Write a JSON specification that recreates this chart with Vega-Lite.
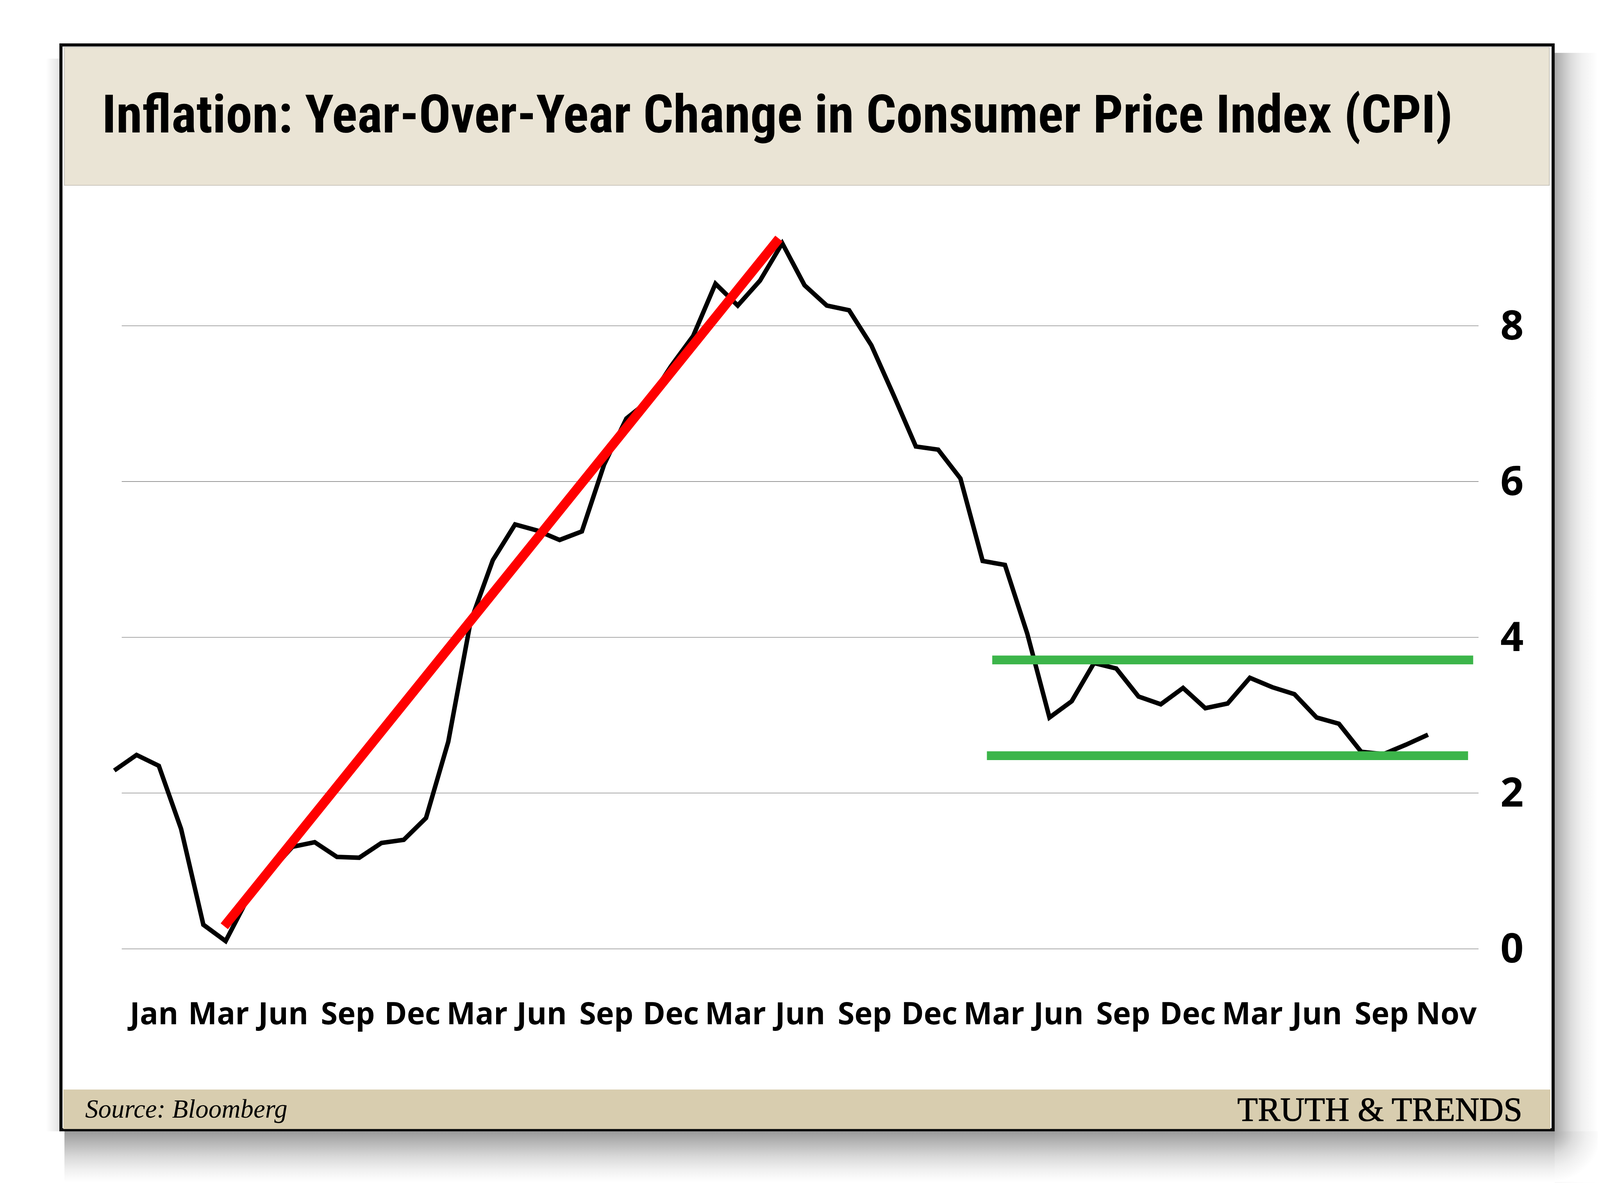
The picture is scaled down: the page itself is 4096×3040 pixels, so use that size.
{
  "$schema": "https://vega.github.io/schema/vega-lite/v6.json",
  "width": 3820,
  "height": 2776,
  "autosize": "none",
  "padding": {"left": 156, "top": 115, "right": 120, "bottom": 149},
  "background": "#FFFFFF",
  "config": {"view": {"fill": "#FFFFFF", "stroke": "#0D0D0D", "strokeWidth": 8}},
  "resolve": {"scale": {"x": "independent"}},
  "datasets": {
    "cpi": [
      {"month": "2019-12", "i": 0, "v": 2.29},
      {"month": "2020-01", "i": 1, "v": 2.49},
      {"month": "2020-02", "i": 2, "v": 2.35},
      {"month": "2020-03", "i": 3, "v": 1.54},
      {"month": "2020-04", "i": 4, "v": 0.31},
      {"month": "2020-05", "i": 5, "v": 0.1},
      {"month": "2020-06", "i": 6, "v": 0.65},
      {"month": "2020-07", "i": 7, "v": 0.99},
      {"month": "2020-08", "i": 8, "v": 1.31},
      {"month": "2020-09", "i": 9, "v": 1.37},
      {"month": "2020-10", "i": 10, "v": 1.18},
      {"month": "2020-11", "i": 11, "v": 1.17},
      {"month": "2020-12", "i": 12, "v": 1.36},
      {"month": "2021-01", "i": 13, "v": 1.4},
      {"month": "2021-02", "i": 14, "v": 1.68},
      {"month": "2021-03", "i": 15, "v": 2.66},
      {"month": "2021-04", "i": 16, "v": 4.2},
      {"month": "2021-05", "i": 17, "v": 4.99},
      {"month": "2021-06", "i": 18, "v": 5.45},
      {"month": "2021-07", "i": 19, "v": 5.37},
      {"month": "2021-08", "i": 20, "v": 5.25},
      {"month": "2021-09", "i": 21, "v": 5.36},
      {"month": "2021-10", "i": 22, "v": 6.22},
      {"month": "2021-11", "i": 23, "v": 6.81},
      {"month": "2021-12", "i": 24, "v": 7.04},
      {"month": "2022-01", "i": 25, "v": 7.48},
      {"month": "2022-02", "i": 26, "v": 7.87},
      {"month": "2022-03", "i": 27, "v": 8.54},
      {"month": "2022-04", "i": 28, "v": 8.26},
      {"month": "2022-05", "i": 29, "v": 8.58},
      {"month": "2022-06", "i": 30, "v": 9.06},
      {"month": "2022-07", "i": 31, "v": 8.52},
      {"month": "2022-08", "i": 32, "v": 8.26},
      {"month": "2022-09", "i": 33, "v": 8.2},
      {"month": "2022-10", "i": 34, "v": 7.75},
      {"month": "2022-11", "i": 35, "v": 7.11},
      {"month": "2022-12", "i": 36, "v": 6.45},
      {"month": "2023-01", "i": 37, "v": 6.41},
      {"month": "2023-02", "i": 38, "v": 6.04},
      {"month": "2023-03", "i": 39, "v": 4.98},
      {"month": "2023-04", "i": 40, "v": 4.93},
      {"month": "2023-05", "i": 41, "v": 4.05},
      {"month": "2023-06", "i": 42, "v": 2.97},
      {"month": "2023-07", "i": 43, "v": 3.18},
      {"month": "2023-08", "i": 44, "v": 3.67},
      {"month": "2023-09", "i": 45, "v": 3.6},
      {"month": "2023-10", "i": 46, "v": 3.24},
      {"month": "2023-11", "i": 47, "v": 3.14},
      {"month": "2023-12", "i": 48, "v": 3.35},
      {"month": "2024-01", "i": 49, "v": 3.09},
      {"month": "2024-02", "i": 50, "v": 3.15},
      {"month": "2024-03", "i": 51, "v": 3.48},
      {"month": "2024-04", "i": 52, "v": 3.36},
      {"month": "2024-05", "i": 53, "v": 3.27},
      {"month": "2024-06", "i": 54, "v": 2.97},
      {"month": "2024-07", "i": 55, "v": 2.89},
      {"month": "2024-08", "i": 56, "v": 2.53},
      {"month": "2024-09", "i": 57, "v": 2.5},
      {"month": "2024-10", "i": 58, "v": 2.62},
      {"month": "2024-11", "i": 59, "v": 2.75}
    ],
    "trend": [{"i": 4.94, "v": 0.29}, {"i": 29.85, "v": 9.12}],
    "support": [
      {"level": "upper", "start": 39.43, "end": 61.03, "v": 3.71},
      {"level": "lower", "start": 39.19, "end": 60.8, "v": 2.48}
    ],
    "grid": [{"v": 0}, {"v": 2}, {"v": 4}, {"v": 6}, {"v": 8}],
    "ticklabels": [
      {"slot": 0, "label": "Jan"}, {"slot": 1, "label": "Mar"}, {"slot": 2, "label": "Jun"}, {"slot": 3, "label": "Sep"},
      {"slot": 4, "label": "Dec"}, {"slot": 5, "label": "Mar"}, {"slot": 6, "label": "Jun"}, {"slot": 7, "label": "Sep"},
      {"slot": 8, "label": "Dec"}, {"slot": 9, "label": "Mar"}, {"slot": 10, "label": "Jun"}, {"slot": 11, "label": "Sep"},
      {"slot": 12, "label": "Dec"}, {"slot": 13, "label": "Mar"}, {"slot": 14, "label": "Jun"}, {"slot": 15, "label": "Sep"},
      {"slot": 16, "label": "Dec"}, {"slot": 17, "label": "Mar"}, {"slot": 18, "label": "Jun"}, {"slot": 19, "label": "Sep"},
      {"slot": 20, "label": "Nov"}
    ]
  },
  "layer": [
    {"data": {"values": [{}]},
     "mark": {"type": "rect", "fill": {"gradient": "linear", "x1": 0, "y1": 0, "x2": 0, "y2": 1,
              "stops": [{"offset": 0, "color": "#9A9A9A"}, {"offset": 0.2, "color": "#B4B4B4"}, {"offset": 0.5, "color": "#D9D9D9"}, {"offset": 0.75, "color": "#F0F0F0"}, {"offset": 1, "color": "#FFFFFF"}]}},
     "encoding": {"x": {"datum": -2.239, "scale": {"domain": [-2.396, 64.62], "nice": false, "zero": false}, "axis": null}, "x2": {"datum": 64.69},
                  "y": {"datum": -2.343, "scale": {"domain": [-2.323, 11.606], "nice": false, "zero": false}, "axis": null}, "y2": {"datum": -2.996}}},
    {"data": {"values": [{}]},
     "mark": {"type": "rect", "fill": {"gradient": "linear", "x1": 0, "y1": 0, "x2": 1, "y2": 0,
              "stops": [{"offset": 0, "color": "#A8A8A8"}, {"offset": 0.17, "color": "#C0C0C0"}, {"offset": 0.38, "color": "#DCDCDC"}, {"offset": 0.62, "color": "#F0F0F0"}, {"offset": 1, "color": "#FFFFFF"}]}},
     "encoding": {"x": {"datum": 64.69, "scale": {"domain": [-2.396, 64.62], "nice": false, "zero": false}, "axis": null}, "x2": {"datum": 66.62},
                  "y": {"datum": 11.505, "scale": {"domain": [-2.323, 11.606], "nice": false, "zero": false}, "axis": null}, "y2": {"datum": -2.343}}},
    {"data": {"values": [{}]},
     "mark": {"type": "rect", "fill": {"gradient": "radial", "x1": 0, "y1": 0, "r1": 0, "x2": 0, "y2": 0, "r2": 1,
              "stops": [{"offset": 0, "color": "#A0A0A0"}, {"offset": 0.2, "color": "#BABABA"}, {"offset": 0.45, "color": "#DCDCDC"}, {"offset": 0.7, "color": "#F0F0F0"}, {"offset": 1, "color": "#FFFFFF"}]}},
     "encoding": {"x": {"datum": 64.69, "scale": {"domain": [-2.396, 64.62], "nice": false, "zero": false}, "axis": null}, "x2": {"datum": 66.62},
                  "y": {"datum": -2.343, "scale": {"domain": [-2.323, 11.606], "nice": false, "zero": false}, "axis": null}, "y2": {"datum": -2.996}}},
    {"data": {"values": [{}]},
     "mark": {"type": "rect", "fill": {"gradient": "linear", "x1": 0, "y1": 0, "x2": 1, "y2": 0,
              "stops": [{"offset": 0, "color": "#FFFFFF"}, {"offset": 1, "color": "#E4E4E4"}]}},
     "encoding": {"x": {"datum": -3.063, "scale": {"domain": [-2.396, 64.62], "nice": false, "zero": false}, "axis": null}, "x2": {"datum": -2.467},
                  "y": {"datum": 11.43, "scale": {"domain": [-2.323, 11.606], "nice": false, "zero": false}, "axis": null}, "y2": {"datum": -2.343}}},
    {"data": {"values": [{}]}, "mark": {"type": "rect", "fill": "#EAE4D5", "stroke": "#BDBAB2", "strokeWidth": 1.5},
     "encoding": {"x": {"datum": -2.239, "scale": {"domain": [-2.396, 64.62], "nice": false, "zero": false}, "axis": null}, "x2": {"datum": 64.45},
                  "y": {"datum": 11.576, "scale": {"domain": [-2.323, 11.606], "nice": false, "zero": false}, "axis": null}, "y2": {"datum": 9.804}}},
    {"data": {"values": [{}]}, "mark": {"type": "rect", "fill": "#D8CDAF"},
     "encoding": {"x": {"datum": -2.291, "scale": {"domain": [-2.396, 64.62], "nice": false, "zero": false}, "axis": null}, "x2": {"datum": 64.5},
                  "y": {"datum": -1.806, "scale": {"domain": [-2.323, 11.606], "nice": false, "zero": false}, "axis": null}, "y2": {"datum": -2.313}}},
    {"data": {"name": "grid"}, "mark": {"type": "rule", "color": "#767676", "strokeWidth": 1.3},
     "encoding": {"x": {"datum": 0.335, "scale": {"domain": [-2.396, 64.62], "nice": false, "zero": false}, "axis": null}, "x2": {"datum": 61.27},
                  "y": {"field": "v", "type": "quantitative", "scale": {"domain": [-2.323, 11.606], "nice": false, "zero": false}, "axis": null}}},
    {"data": {"name": "grid"}, "mark": {"type": "text", "font": "Open Sans", "fontWeight": "bold", "fontSize": 104, "align": "left", "baseline": "alphabetic", "dy": 35, "color": "#000000"},
     "encoding": {"x": {"datum": 62.25, "scale": {"domain": [-2.396, 64.62], "nice": false, "zero": false}, "axis": null},
                  "y": {"field": "v", "type": "quantitative", "scale": {"domain": [-2.323, 11.606], "nice": false, "zero": false}, "axis": null},
                  "text": {"field": "v", "type": "quantitative", "format": "d"}}},
    {"data": {"name": "ticklabels"}, "mark": {"type": "text", "font": "Open Sans", "fontWeight": "bold", "fontSize": 78, "align": "center", "baseline": "alphabetic", "color": "#000000"},
     "encoding": {"x": {"field": "slot", "type": "quantitative", "scale": {"domain": [-1.441, 21.655], "nice": false, "zero": false}, "axis": null},
                  "y": {"datum": -0.968, "scale": {"domain": [-2.323, 11.606], "nice": false, "zero": false}, "axis": null},
                  "text": {"field": "label"}}},
    {"data": {"name": "cpi"}, "mark": {"type": "line", "color": "#000000", "strokeWidth": 11.5, "strokeJoin": "miter"},
     "encoding": {"x": {"field": "i", "type": "quantitative", "scale": {"domain": [-2.396, 64.62], "nice": false, "zero": false}, "axis": null},
                  "y": {"field": "v", "type": "quantitative", "scale": {"domain": [-2.323, 11.606], "nice": false, "zero": false}, "axis": null}}},
    {"data": {"name": "trend"}, "mark": {"type": "line", "color": "#FF0000", "strokeWidth": 24, "strokeCap": "butt"},
     "encoding": {"x": {"field": "i", "type": "quantitative", "scale": {"domain": [-2.396, 64.62], "nice": false, "zero": false}, "axis": null},
                  "y": {"field": "v", "type": "quantitative", "scale": {"domain": [-2.323, 11.606], "nice": false, "zero": false}, "axis": null}}},
    {"data": {"name": "support"}, "mark": {"type": "rule", "color": "#3CB54A", "strokeWidth": 22.5, "strokeCap": "butt"},
     "encoding": {"x": {"field": "start", "type": "quantitative", "scale": {"domain": [-2.396, 64.62], "nice": false, "zero": false}, "axis": null},
                  "x2": {"field": "end"},
                  "y": {"field": "v", "type": "quantitative", "scale": {"domain": [-2.323, 11.606], "nice": false, "zero": false}, "axis": null}}},
    {"data": {"values": [{"text": "Inflation: Year-Over-Year Change in Consumer Price Index (CPI)"}]},
     "mark": {"type": "text", "font": "Roboto Condensed, Noto Sans Condensed, Liberation Sans Narrow, DejaVu Sans Condensed, DejaVu Sans", "fontWeight": "bold", "fontSize": 135.5, "align": "left", "baseline": "alphabetic", "color": "#000000"},
     "encoding": {"x": {"datum": -0.554, "scale": {"domain": [-2.396, 64.62], "nice": false, "zero": false}, "axis": null},
                  "y": {"datum": 10.482, "scale": {"domain": [-2.323, 11.606], "nice": false, "zero": false}, "axis": null},
                  "text": {"field": "text"}}},
    {"data": {"values": [{"text": "Source: Bloomberg"}]},
     "mark": {"type": "text", "font": "Liberation Serif", "fontStyle": "italic", "fontSize": 67, "align": "left", "baseline": "alphabetic", "color": "#000000"},
     "encoding": {"x": {"datum": -1.309, "scale": {"domain": [-2.396, 64.62], "nice": false, "zero": false}, "axis": null},
                  "y": {"datum": -2.168, "scale": {"domain": [-2.323, 11.606], "nice": false, "zero": false}, "axis": null},
                  "text": {"field": "text"}}},
    {"data": {"values": [{"text": "TRUTH & TRENDS"}]},
     "mark": {"type": "text", "font": "Liberation Serif", "fontSize": 86, "align": "right", "baseline": "alphabetic", "color": "#000000", "stroke": "#000000", "strokeWidth": 1.2},
     "encoding": {"x": {"datum": 63.235, "scale": {"domain": [-2.396, 64.62], "nice": false, "zero": false}, "axis": null},
                  "y": {"datum": -2.208, "scale": {"domain": [-2.323, 11.606], "nice": false, "zero": false}, "axis": null},
                  "text": {"field": "text"}}}
  ]
}
